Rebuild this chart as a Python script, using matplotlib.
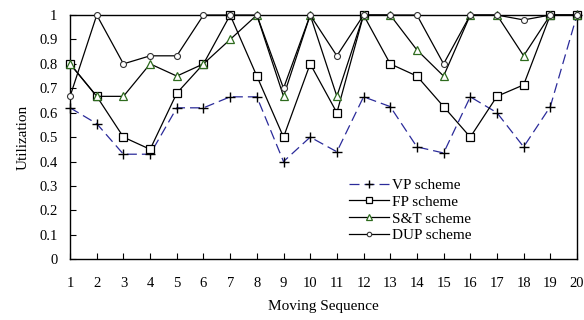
import matplotlib
matplotlib.use("Agg")
import matplotlib.pyplot as plt

seq = list(range(1, 21))
vp = [0.62, 0.555, 0.43, 0.43, 0.62, 0.62, 0.665, 0.665, 0.40, 0.50,
      0.44, 0.665, 0.625, 0.46, 0.435, 0.665, 0.60, 0.46, 0.625, 1.0]
fp = [0.80, 0.667, 0.50, 0.45, 0.68, 0.80, 1.0, 0.75, 0.50, 0.80,
      0.60, 1.0, 0.80, 0.75, 0.625, 0.50, 0.667, 0.714, 1.0, 1.0]
st = [0.80, 0.667, 0.667, 0.80, 0.75, 0.80, 0.90, 1.0, 0.667, 1.0,
      0.667, 1.0, 1.0, 0.857, 0.75, 1.0, 1.0, 0.833, 1.0, 1.0]
dup = [0.667, 1.0, 0.80, 0.833, 0.833, 1.0, 1.0, 1.0, 0.70, 1.0,
       0.833, 1.0, 1.0, 1.0, 0.80, 1.0, 1.0, 0.98, 1.0, 1.0]
yticks = [0, 0.1, 0.2, 0.3, 0.4, 0.5, 0.6, 0.7, 0.8, 0.9, 1]
ytick_labels = ["0", "0.1", "0.2", "0.3", "0.4", "0.5", "0.6", "0.7", "0.8", "0.9", "1"]

plt.rcParams['font.family'] = ['Liberation Serif', 'DejaVu Serif']

fig = plt.figure(figsize=(5.84, 3.2), dpi=100)
ax = fig.add_axes([0.12, 0.19, 0.868, 0.763])

ax.plot(seq, vp, color='#2b2b9a', lw=0.9, dashes=(8, 4), marker='+', ms=7,
        mec='black', mew=1.0, label='VP scheme', clip_on=False, zorder=3)
ax.plot(seq, fp, color='black', lw=0.9, marker='s', ms=5.2, mfc='white',
        mec='black', mew=0.9, label='FP scheme', clip_on=False, zorder=3)
ax.plot(seq, st, color='black', lw=0.9, marker='^', ms=5.2, mfc='white',
        mec='#2e6b1e', mew=0.9, label='S&T scheme', clip_on=False, zorder=3)
ax.plot(seq, dup, color='black', lw=0.9, marker='o', ms=4.3, mfc='white',
        mec='#333333', mew=0.8, label='DUP scheme', clip_on=False, zorder=3)

ax.set_xlim(1, 20)
ax.set_ylim(0, 1)
ax.set_xticks(seq)
ax.set_yticks(yticks)
ax.set_yticklabels(ytick_labels)
ax.tick_params(axis='x', direction='in', length=4, pad=13, labelsize=10.5)
ax.tick_params(axis='y', direction='in', length=4, pad=9, labelsize=10.5)
for s in ax.spines.values():
    s.set_linewidth(1.0)

ax.set_xlabel('Moving Sequence', fontsize=11, labelpad=7)
ax.set_ylabel('Utilization', fontsize=11, labelpad=7)

ax.legend(loc='upper left', bbox_to_anchor=(0.53, 0.375), frameon=False,
          fontsize=11, handlelength=2.6, handletextpad=0.2,
          labelspacing=0.2, borderpad=0.2, markerscale=0.75)

fig.savefig('out.png', dpi=100)
